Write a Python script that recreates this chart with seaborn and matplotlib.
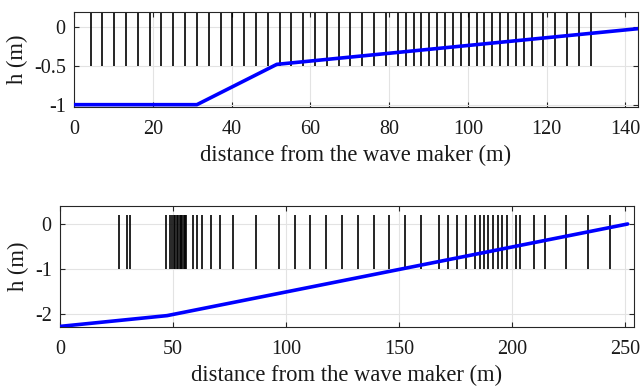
import numpy as np
import pandas as pd
import matplotlib
matplotlib.use("Agg")
import matplotlib.pyplot as plt
import seaborn as sns

# ---- data ----
# upper flume: bathymetry profile (x in m, h in m)
top_bed_x = [0.0, 31.2, 51.5, 143.2]
top_bed_h = [-1.0, -1.0, -0.48, -0.02]
# upper flume: gauge positions (m)
top_gauges = [4.2, 7.2, 10.2, 13.2, 16.2, 19.2, 22.2, 25.2, 28.2, 31.2, 34.2, 37.2,
              40.2, 43.2, 46.2, 49.2, 52.2, 55.2, 58.2, 61.2, 64.2, 67.2, 70.2, 73.2,
              76.2, 79.2, 82.2, 84.2, 86.2, 88.2, 90.2, 92.2, 94.2, 96.2, 98.2, 100.2,
              102.2, 104.2, 106.2, 108.2, 110.2, 112.2, 114.2, 116.2, 119.2, 122.2,
              125.2, 128.2, 131.2]
# lower flume: bathymetry profile
bot_bed_x = [0.0, 47.4, 251.2]
bot_bed_h = [-2.28, -2.04, 0.0]
# lower flume: gauge positions (m)
bot_gauges = [26.0, 29.7, 30.9, 46.9, 48.5, 49.4, 50.5, 51.1, 51.7, 52.3, 52.9, 53.5,
              54.1, 54.7, 55.3, 55.9, 58.9, 60.7, 63.0, 66.9, 70.7, 76.6, 86.8, 96.9,
              103.9, 110.8, 117.7, 124.8, 131.7, 138.8, 145.7, 152.8, 159.7, 167.8,
              171.8, 175.8, 179.8, 183.7, 185.7, 187.6, 189.6, 191.6, 193.6, 195.6,
              197.6, 201.6, 203.7, 209.8, 214.5, 223.8, 233.7, 243.6]

top_xticks = [0, 20, 40, 60, 80, 100, 120, 140]
top_yticks = [-1, -0.5, 0]
top_yticklabels = ["-1", "-0.5", "0"]
bot_xticks = [0, 50, 100, 150, 200, 250]
bot_yticks = [-2, -1, 0]
bot_yticklabels = ["-2", "-1", "0"]
xlabel = "distance from the wave maker (m)"
ylabel = "h (m)"

# ---- style ----
sns.set_theme(style="whitegrid")
plt.rcParams["font.family"] = ["Liberation Serif", "DejaVu Serif"]

fig = plt.figure(figsize=(6.41, 3.87), dpi=100)
ax1 = fig.add_axes([74/641, 1-107/387, (638-74)/641, 95/387])
ax2 = fig.add_axes([60/641, 1-327.3/387, (634-60)/641, 121.3/387])

def style(ax):
    ax.set_facecolor("white")
    for s in ax.spines.values():
        s.set_color("#262626")
        s.set_linewidth(0.8)
        s.set_visible(True)
    ax.grid(True, color="#e3e3e3", linewidth=0.8)
    ax.tick_params(direction="in", length=3.5, width=0.8, color="#262626",
                   top=True, right=True, bottom=True, left=True,
                   labelsize=14.5, labelcolor="#1a1a1a")
    ax.tick_params(axis="x", pad=9.5)
    ax.tick_params(axis="y", pad=6)
    ax.set_axisbelow(True)

# top panel
ax1.vlines(top_gauges, -0.5, 0.25, colors="black", linewidth=1.2, zorder=2)
sns.lineplot(x=top_bed_x, y=top_bed_h, ax=ax1, color="#0000ff", linewidth=2.6,
             zorder=3, sort=False)
ax1.set_xlim(0, 143.2)
ax1.set_ylim(-1.03, 0.195)
ax1.set_xticks(top_xticks)
ax1.set_yticks(top_yticks)
ax1.set_yticklabels(top_yticklabels)
style(ax1)
ax1.set_xlabel(xlabel, fontsize=16.25, color="#1a1a1a", labelpad=4)
ax1.set_ylabel(ylabel, fontsize=16.25, color="#1a1a1a", labelpad=4)

# bottom panel
ax2.vlines(bot_gauges, -1, 0.2, colors="black", linewidth=1.2, zorder=2)
sns.lineplot(x=bot_bed_x, y=bot_bed_h, ax=ax2, color="#0000ff", linewidth=2.6,
             zorder=3, sort=False)
ax2.set_xlim(0, 254)
ax2.set_ylim(-2.3, 0.4)
ax2.set_xticks(bot_xticks)
ax2.set_yticks(bot_yticks)
ax2.set_yticklabels(bot_yticklabels)
style(ax2)
ax2.set_xlabel(xlabel, fontsize=16.25, color="#1a1a1a", labelpad=4)
ax2.set_ylabel(ylabel, fontsize=16.25, color="#1a1a1a", labelpad=4)

fig.savefig("out.png", dpi=100)
